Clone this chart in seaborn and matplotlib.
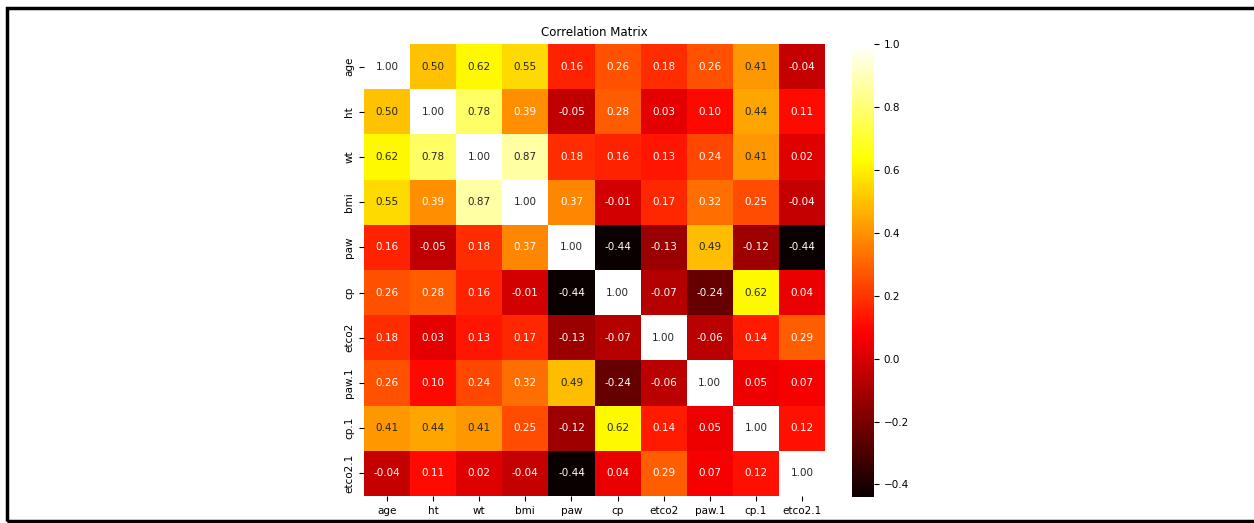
import numpy as np
import pandas as pd
import matplotlib
matplotlib.use("Agg")
import matplotlib.pyplot as plt
import seaborn as sns
from matplotlib.patches import Rectangle

labels = ["age", "ht", "wt", "bmi", "paw", "cp", "etco2", "paw.1", "cp.1", "etco2.1"]
row_age = [1.00, 0.50, 0.62, 0.55, 0.16, 0.26, 0.18, 0.26, 0.41, -0.04]
row_ht = [0.50, 1.00, 0.78, 0.39, -0.05, 0.28, 0.03, 0.10, 0.44, 0.11]
row_wt = [0.62, 0.78, 1.00, 0.87, 0.18, 0.16, 0.13, 0.24, 0.41, 0.02]
row_bmi = [0.55, 0.39, 0.87, 1.00, 0.37, -0.01, 0.17, 0.32, 0.25, -0.04]
row_paw = [0.16, -0.05, 0.18, 0.37, 1.00, -0.44, -0.13, 0.49, -0.12, -0.44]
row_cp = [0.26, 0.28, 0.16, -0.01, -0.44, 1.00, -0.07, -0.24, 0.62, 0.04]
row_etco2 = [0.18, 0.03, 0.13, 0.17, -0.13, -0.07, 1.00, -0.06, 0.14, 0.29]
row_paw1 = [0.26, 0.10, 0.24, 0.32, 0.49, -0.24, -0.06, 1.00, 0.05, 0.07]
row_cp1 = [0.41, 0.44, 0.41, 0.25, -0.12, 0.62, 0.14, 0.05, 1.00, 0.12]
row_etco21 = [-0.04, 0.11, 0.02, -0.04, -0.44, 0.04, 0.29, 0.07, 0.12, 1.00]

corr = pd.DataFrame([row_age, row_ht, row_wt, row_bmi, row_paw, row_cp,
                     row_etco2, row_paw1, row_cp1, row_etco21],
                    index=labels, columns=labels)

fig = plt.figure(figsize=(12.54, 5.23), dpi=100)
ax = fig.add_axes([364/1254, 1 - 496/523, 461/1254, 452/523])
cax = fig.add_axes([852/1254, 1 - 497/523, 22/1254, 453/523])

sns.heatmap(corr, annot=True, fmt=".2f", cmap="hot", ax=ax, cbar_ax=cax,
            annot_kws={"fontsize": 7.5}, vmin=-0.44, vmax=1.0)
ax.set_title("Correlation Matrix", fontsize=8.5)
ax.tick_params(labelsize=7.5)
cax.tick_params(labelsize=7.5)

fig.patches.append(Rectangle((7/1254, 1 - 521/523), 1.1, 513/523,
                             transform=fig.transFigure, fill=False,
                             edgecolor="black", linewidth=2.5, clip_on=False))

fig.savefig("out.png", dpi=100)
